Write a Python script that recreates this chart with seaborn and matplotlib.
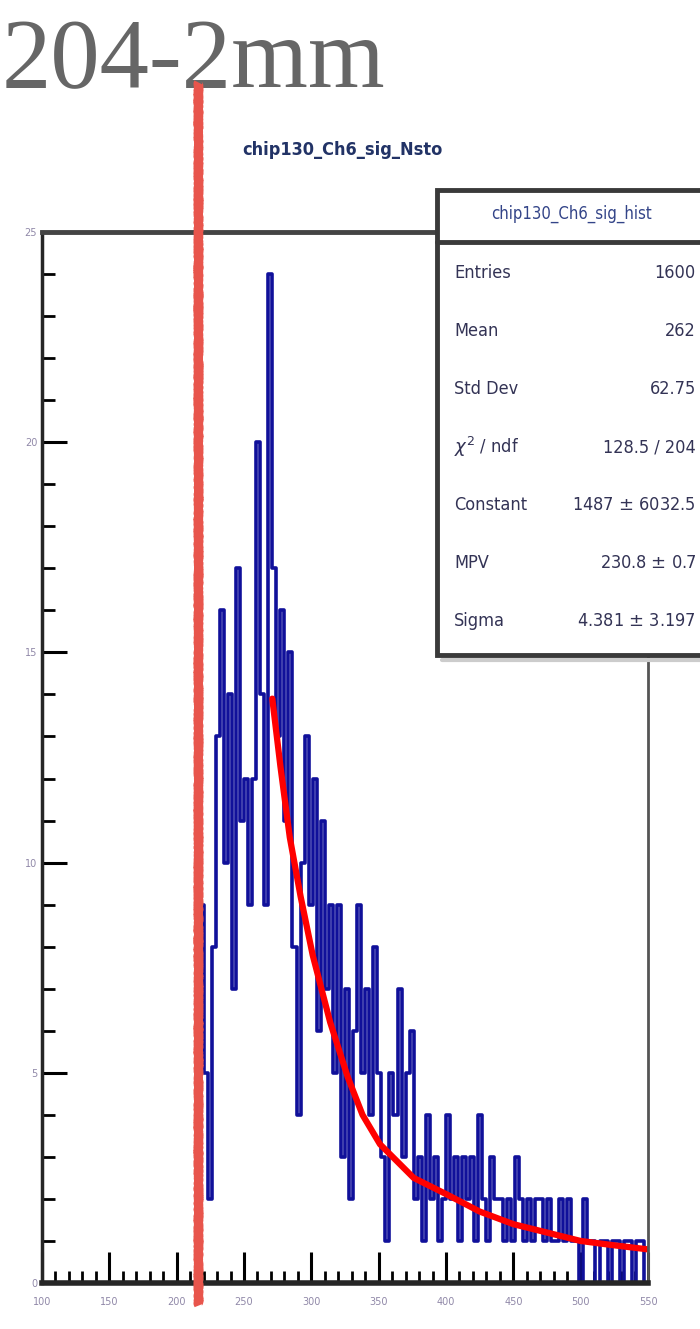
import numpy as np
import pandas as pd
import matplotlib.pyplot as plt
import seaborn as sns
from matplotlib.lines import Line2D
from matplotlib.patches import Rectangle
from matplotlib.ticker import MultipleLocator

# --- data --- #
bin_start = 214
bin_width = 3
counts = [1,
          9, 5, 2, 8, 13, 16, 10, 14, 7, 17, 11, 12, 9, 12, 20, 14, 9, 24, 17, 13,
          16, 11, 15, 8, 4, 10, 13, 9, 12, 6, 11, 7, 9, 5, 9, 3, 7, 2, 6, 9,
          5, 7, 4, 8, 5, 3, 1, 5, 4, 7, 3, 5, 6, 2, 3, 1, 4, 2, 3, 1,
          2, 4, 2, 3, 1, 3, 2, 3, 1, 4, 2, 1, 3, 2, 2, 1, 2, 1, 3, 2,
          1, 2, 1, 2, 2, 1, 2, 1, 1, 2, 1, 2, 1, 1, 0, 2, 1, 1, 0, 1,
          1, 0, 1, 1, 0, 1, 1, 0, 1, 1, 0]

fit_x = [271, 277, 284, 292, 301, 314, 327, 338, 351, 376, 401, 425, 450, 475, 500, 524, 550]
fit_y = [13.9, 12.3, 10.6, 9.2, 7.8, 6.2, 4.9, 4.0, 3.3, 2.5, 2.1, 1.7, 1.4, 1.2, 1.0, 0.9, 0.8]

x_ticks = [100, 150, 200, 250, 300, 350, 400, 450, 500, 550]
y_ticks = [0, 5, 10, 15, 20, 25]

hist_title = "chip130_Ch6_sig_hist"
stat_names = ["Entries", "Mean", "Std Dev", "$\\chi^2$ / ndf", "Constant", "MPV", "Sigma"]
stat_values = ["1600", "262", "62.75", "128.5 / 204", "1487 $\\pm$ 6032.5", "230.8 $\\pm$ 0.7",
               "4.381 $\\pm$ 3.197"]

# --- plot --- #
sns.set_style("ticks")
narrow = ["Liberation Sans Narrow", "DejaVu Sans"]

W, H = 700, 1329
fig = plt.figure(figsize=(W / 100, H / 100), dpi=100)
ax = fig.add_axes([42 / W, 1 - 1283 / H, 606 / W, 1051 / H])

x_end = bin_start + bin_width * len(counts)
df = pd.DataFrame({"x": bin_start + bin_width * (np.arange(len(counts)) + 0.5), "n": counts})
sns.histplot(data=df, x="x", weights="n", binwidth=bin_width, binrange=(bin_start, x_end),
             element="step", fill=False, color="#10109a", linewidth=2.6, ax=ax)
fit = pd.DataFrame({"x": fit_x, "y": fit_y})
sns.lineplot(data=fit, x="x", y="y", color="#ff0000", linewidth=4.5, ax=ax)

ax.set_xlim(100, 550)
ax.set_ylim(0, 25)
ax.set_xticks(x_ticks)
ax.set_yticks(y_ticks)
ax.xaxis.set_minor_locator(MultipleLocator(10))
ax.yaxis.set_minor_locator(MultipleLocator(1))
ax.tick_params(which="major", direction="in", length=18, width=2.2, color="black",
               labelsize=7, labelcolor="#9088a8")
ax.tick_params(which="minor", direction="in", length=9, width=2, color="black")
ax.tick_params(axis="x", which="major", length=22, pad=10)
ax.set_xlabel("")
ax.set_ylabel("")

ax.spines["left"].set_linewidth(2.5)
ax.spines["bottom"].set_linewidth(4)
ax.spines["top"].set_linewidth(3.5)
ax.spines["top"].set_color("#444444")
ax.spines["right"].set_linewidth(2)
ax.spines["right"].set_color("#555555")
for s in ax.spines.values():
    s.set_visible(True)

# histogram title
fig.text(342 / W, 1 - 150 / H, "chip130_Ch6_sig_Nsto", ha="center", va="center",
         fontsize=13, color="#223366", family=narrow, fontweight="bold",
         fontstretch="condensed")

# stats box
box = Rectangle((437 / W, 1 - 655 / H), 280 / W, 465 / H, transform=fig.transFigure,
                facecolor="white", edgecolor="#3a3a3a", linewidth=3.5, zorder=5)
fig.patches.append(box)
fig.add_artist(Line2D([437 / W, 1.02], [1 - 242 / H, 1 - 242 / H], color="#3a3a3a",
                      linewidth=3.5, zorder=6))
fig.add_artist(Line2D([442 / W, 1.02], [1 - 660 / H, 1 - 660 / H], color="#cccccc",
                      linewidth=3, zorder=4))
fig.text(572 / W, 1 - 214 / H, hist_title, ha="center", va="center", fontsize=12,
         color="#334488", family=narrow, fontstretch="condensed", zorder=7)
for i, (name, val) in enumerate(zip(stat_names, stat_values)):
    y = 1 - (273 + 58 * i) / H
    fig.text(454 / W, y, name, ha="left", va="center", fontsize=13, color="#333355",
             family=narrow, fontstretch="condensed", zorder=7)
    fig.text(696 / W, y, val, ha="right", va="center", fontsize=13, color="#333355",
             family=narrow, fontstretch="condensed", zorder=7)

# big label and hand-drawn marker
fig.text(2 / W, 1 - 87 / H, "204-2mm", ha="left", va="baseline", fontsize=71,
         color="#666666", family=["Liberation Serif", "DejaVu Serif"])
mark = Line2D([198 / W, 198 / W], [1 - 82 / H, 1 - 1305 / H], color="#e8554c",
              linewidth=6.5, solid_capstyle="butt", zorder=10)
mark.set_sketch_params(scale=0.6, length=3, randomness=2)
fig.add_artist(mark)

fig.savefig("out.png", dpi=100)
